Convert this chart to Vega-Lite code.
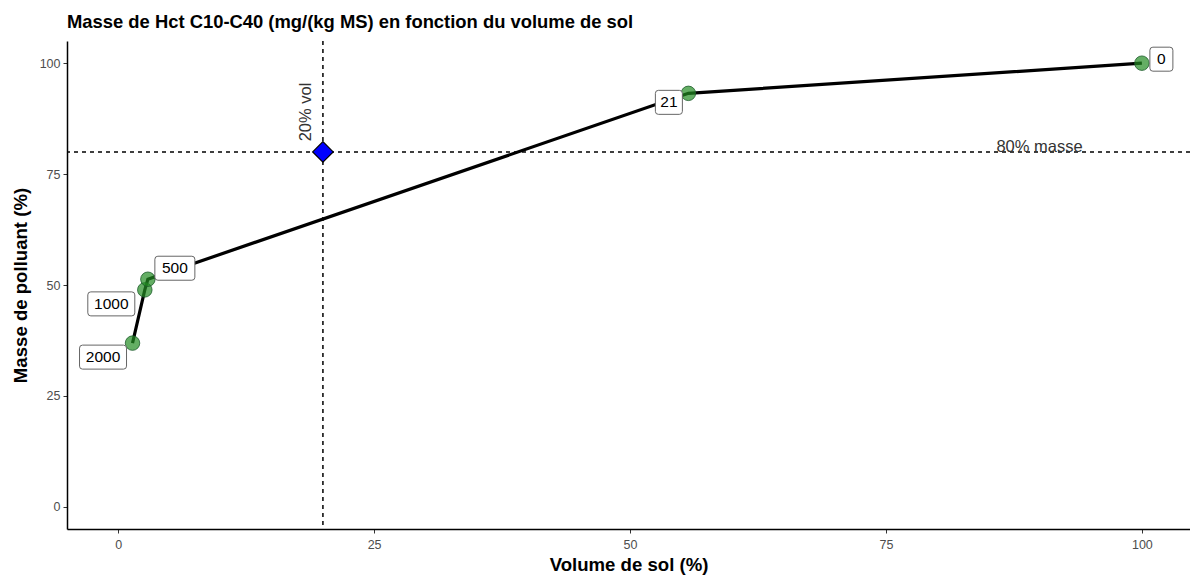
{
  "$schema": "https://vega.github.io/schema/vega-lite/v6.json",
  "autosize": {"type": "none"},
  "padding": {"left": 67, "top": 41, "right": 0, "bottom": 46},
  "width": 1123,
  "height": 488,
  "background": "white",
  "title": {
    "text": "Masse de Hct C10-C40 (mg/(kg MS) en fonction du volume de sol",
    "anchor": "start",
    "frame": "group",
    "font": "Liberation Sans",
    "fontSize": 18.4,
    "fontWeight": "bold",
    "color": "black",
    "offset": 9
  },
  "datasets": {
    "pts": [
      {"conc": "2000", "vol": 1.4, "masse": 36.9},
      {"conc": "1000", "vol": 2.6, "masse": 48.9},
      {"conc": "500", "vol": 2.9, "masse": 51.3},
      {"conc": "21", "vol": 55.7, "masse": 93.2},
      {"conc": "0", "vol": 100, "masse": 100}
    ],
    "seuil": [{"vol": 20, "masse": 80}],
    "annot": [
      {"label": "20% vol", "vol": 20, "masse": 89},
      {"label": "80% masse", "vol": 90, "masse": 80}
    ]
  },
  "data": {"name": "pts"},
  "encoding": {
    "x": {
      "field": "vol", "type": "quantitative",
      "scale": {"domain": [-5, 104.7], "nice": false, "zero": false},
      "axis": {"title": "Volume de sol (%)", "values": [0, 25, 50, 75, 100]}
    },
    "y": {
      "field": "masse", "type": "quantitative",
      "scale": {"domain": [-5, 105], "nice": false, "zero": false},
      "axis": {"title": "Masse de polluant (%)", "values": [0, 25, 50, 75, 100]}
    }
  },
  "layer": [
    {
      "data": {"name": "seuil"},
      "mark": {"type": "rule", "color": "black", "strokeWidth": 1.5, "strokeDash": [4, 4]},
      "encoding": {"y": null}
    },
    {
      "data": {"name": "seuil"},
      "mark": {"type": "rule", "color": "black", "strokeWidth": 1.5, "strokeDash": [4, 4]},
      "encoding": {"x": null}
    },
    {
      "mark": {"type": "line", "color": "black", "strokeWidth": 3.2}
    },
    {
      "mark": {"type": "point", "filled": true, "fill": "#228B22", "fillOpacity": 0.7, "stroke": "#1d5c2c", "strokeWidth": 1, "strokeOpacity": 0.8, "size": 210, "shape": "circle"}
    },
    {
      "data": {"name": "seuil"},
      "mark": {"type": "point", "filled": true, "fill": "#0000ff", "fillOpacity": 1, "stroke": "black", "strokeWidth": 1.2, "size": 420, "shape": "diamond"}
    },
    {
      "data": {"name": "annot"},
      "transform": [{"filter": "datum.label === '20% vol'"}],
      "mark": {"type": "text", "angle": 270, "align": "center", "baseline": "alphabetic", "dy": -12, "font": "Liberation Sans", "fontSize": 16.5, "color": "#333333"},
      "encoding": {"text": {"field": "label"}}
    },
    {
      "data": {"name": "annot"},
      "transform": [{"filter": "datum.label === '80% masse'"}],
      "mark": {"type": "text", "align": "center", "baseline": "alphabetic", "dy": 0, "font": "Liberation Sans", "fontSize": 16.5, "color": "#333333"},
      "encoding": {"text": {"field": "label"}}
    },
    {
      "transform": [{"filter": "datum.conc === '500'"}],
      "layer": [
        {"mark": {"type": "point", "filled": true, "fill": "white", "fillOpacity": 1, "stroke": "#666666", "strokeWidth": 1, "size": 4, "shape": "M10,-23 H44 Q47,-23 47,-20 V-2 Q47,1 44,1 H10 Q7,1 7,-2 V-20 Q7,-23 10,-23 Z"}},
        {"mark": {"type": "text", "align": "center", "baseline": "middle", "dx": 27, "dy": -11, "font": "Liberation Sans", "fontSize": 15.5, "color": "black"}, "encoding": {"text": {"field": "conc"}}}
      ]
    },
    {
      "transform": [{"filter": "datum.conc === '1000'"}],
      "layer": [
        {"mark": {"type": "point", "filled": true, "fill": "white", "fillOpacity": 1, "stroke": "#666666", "strokeWidth": 1, "size": 4, "shape": "M-54,2 H-13 Q-10,2 -10,5 V23 Q-10,26 -13,26 H-54 Q-57,26 -57,23 V5 Q-57,2 -54,2 Z"}},
        {"mark": {"type": "text", "align": "center", "baseline": "middle", "dx": -33.5, "dy": 14, "font": "Liberation Sans", "fontSize": 15.5, "color": "black"}, "encoding": {"text": {"field": "conc"}}}
      ]
    },
    {
      "transform": [{"filter": "datum.conc === '2000'"}],
      "layer": [
        {"mark": {"type": "point", "filled": true, "fill": "white", "fillOpacity": 1, "stroke": "#666666", "strokeWidth": 1, "size": 4, "shape": "M-50,2 H-9 Q-6,2 -6,5 V23 Q-6,26 -9,26 H-50 Q-53,26 -53,23 V5 Q-53,2 -50,2 Z"}},
        {"mark": {"type": "text", "align": "center", "baseline": "middle", "dx": -29.5, "dy": 14, "font": "Liberation Sans", "fontSize": 15.5, "color": "black"}, "encoding": {"text": {"field": "conc"}}}
      ]
    },
    {
      "transform": [{"filter": "datum.conc === '21'"}],
      "layer": [
        {"mark": {"type": "point", "filled": true, "fill": "white", "fillOpacity": 1, "stroke": "#666666", "strokeWidth": 1, "size": 4, "shape": "M-30,-3 H-9 Q-6,-3 -6,0 V18 Q-6,21 -9,21 H-30 Q-33,21 -33,18 V0 Q-33,-3 -30,-3 Z"}},
        {"mark": {"type": "text", "align": "center", "baseline": "middle", "dx": -19.5, "dy": 9, "font": "Liberation Sans", "fontSize": 15.5, "color": "black"}, "encoding": {"text": {"field": "conc"}}}
      ]
    },
    {
      "transform": [{"filter": "datum.conc === '0'"}],
      "layer": [
        {"mark": {"type": "point", "filled": true, "fill": "white", "fillOpacity": 1, "stroke": "#666666", "strokeWidth": 1, "size": 4, "shape": "M11,-16 H28 Q31,-16 31,-13 V5 Q31,8 28,8 H11 Q8,8 8,5 V-13 Q8,-16 11,-16 Z"}},
        {"mark": {"type": "text", "align": "center", "baseline": "middle", "dx": 19.5, "dy": -4, "font": "Liberation Sans", "fontSize": 15.5, "color": "black"}, "encoding": {"text": {"field": "conc"}}}
      ]
    }
  ],
  "config": {
    "view": {"stroke": null},
    "axis": {
      "grid": false,
      "domainColor": "black",
      "domainWidth": 1.5,
      "tickColor": "#333333",
      "tickSize": 4,
      "tickWidth": 1,
      "labelFont": "Liberation Sans",
      "labelFontSize": 12.5,
      "labelColor": "#4d4d4d",
      "labelPadding": 3,
      "titleFont": "Liberation Sans",
      "titleFontSize": 18.6,
      "titleFontWeight": "bold",
      "titleColor": "black"
    },
    "axisX": {"labelPadding": 5, "titlePadding": 5},
    "axisY": {"titlePadding": 9}
  }
}
